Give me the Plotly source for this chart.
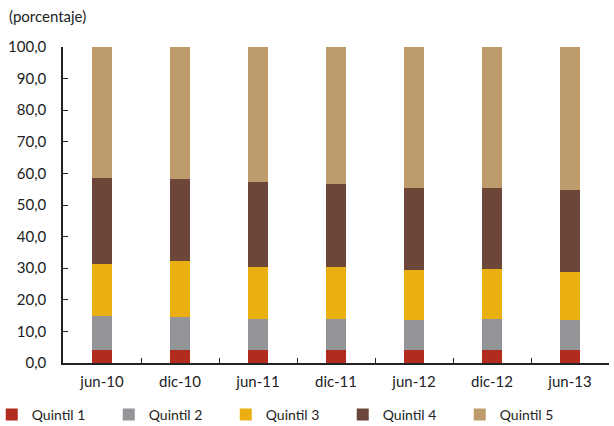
import plotly.graph_objects as go

categories = ["jun-10", "dic-10", "jun-11", "dic-11", "jun-12", "dic-12", "jun-13"]
quintil_1 = [4.2, 4.2, 4.2, 4.2, 4.2, 4.2, 4.2]
quintil_2 = [10.8, 10.3, 9.8, 9.8, 9.5, 9.8, 9.5]
quintil_3 = [16.3, 17.8, 16.3, 16.3, 15.8, 15.9, 15.2]
quintil_4 = [27.3, 25.8, 26.9, 26.4, 25.9, 25.5, 25.8]
quintil_5 = [41.4, 41.9, 42.8, 43.3, 44.6, 44.6, 45.3]

series = [
    ("Quintil 1", quintil_1, "#B22B1F"),
    ("Quintil 2", quintil_2, "#939598"),
    ("Quintil 3", quintil_3, "#EAB012"),
    ("Quintil 4", quintil_4, "#6C4739"),
    ("Quintil 5", quintil_5, "#BE9B6A"),
]

FONT = "Lato"
TXT = "#222"

fig = go.Figure()
for name, vals, color in series:
    fig.add_trace(go.Bar(x=categories, y=vals, name=name,
                         marker=dict(color=color, line=dict(width=0))))

fig.update_layout(
    barmode="stack",
    bargap=0.75,
    width=614, height=426,
    margin=dict(l=63, r=5, t=47, b=63, autoexpand=False),
    paper_bgcolor="white", plot_bgcolor="white",
    separators=",.",
    font=dict(family=FONT, size=15, color=TXT),
    showlegend=True,
    legend=dict(orientation="h", xref="paper", yref="paper",
                x=-0.1305, xanchor="left", y=-0.114, yanchor="top",
                entrywidth=72, font=dict(family=FONT, size=14, color=TXT),
                traceorder="normal", itemclick=False, bgcolor="rgba(0,0,0,0)"),
    annotations=[dict(text="(porcentaje)", xref="paper", yref="paper",
                      x=-56 / 546, y=1 + 31 / 316, xanchor="left", yanchor="middle",
                      showarrow=False, font=dict(family=FONT, size=15, color=TXT))],
)
fig.update_xaxes(showline=True, linecolor=TXT, linewidth=1.5, ticks="inside",
                 tickson="boundaries", ticklen=5, tickcolor=TXT, showgrid=False,
                 automargin=False, ticklabelstandoff=4,
                 tickfont=dict(family=FONT, size=15, color=TXT))
fig.update_yaxes(range=[0, 100], dtick=10, tickformat=".1f", showline=True,
                 linecolor=TXT, linewidth=1.5, ticks="inside", ticklen=5,
                 tickcolor=TXT, showgrid=False, zeroline=False,
                 automargin=False, ticklabelstandoff=12,
                 tickfont=dict(family=FONT, size=15, color=TXT))

fig.write_html("out.html")
